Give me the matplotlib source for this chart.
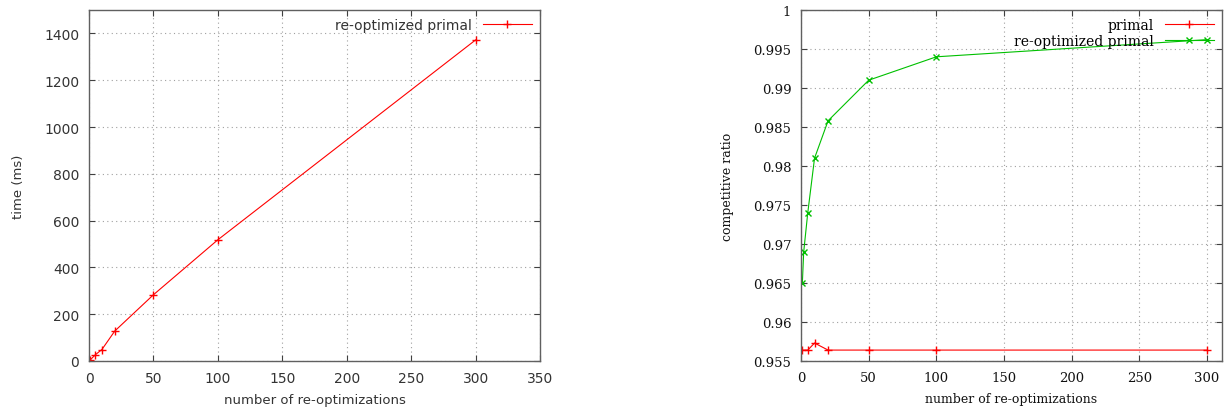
import matplotlib
matplotlib.use("Agg")
import matplotlib.pyplot as plt

# Left chart data
left_x = [1, 5, 10, 20, 50, 100, 300]
left_time = [5, 27, 49, 128, 283, 518, 1372]

# Right chart data
primal_x = [1, 5, 10, 20, 50, 100, 300]
primal_ratio = [0.9564, 0.9564, 0.9573, 0.9564, 0.9564, 0.9564, 0.9564]
reopt_x = [1, 2, 5, 10, 20, 50, 100, 300]
reopt_ratio = [0.9650, 0.9690, 0.9740, 0.9810, 0.9858, 0.9910, 0.9940, 0.9962]

left_xticks = [0, 50, 100, 150, 200, 250, 300, 350]
left_yticks = [0, 200, 400, 600, 800, 1000, 1200, 1400]
right_xticks = [0, 50, 100, 150, 200, 250, 300]
right_xlabels = ["0", "50", "100", "150", "200", "250", "300"]
right_yticks = [0.955, 0.96, 0.965, 0.97, 0.975, 0.98, 0.985, 0.99, 0.995, 1.0]
right_ylabels = ["0.955", "0.96", "0.965", "0.97", "0.975", "0.98", "0.985", "0.99", "0.995", "1"]

W, H = 1224, 410
fig = plt.figure(figsize=(W / 100, H / 100), dpi=100)

def style_axes(ax, family, size, color):
    ax.grid(True, linestyle=(0, (1, 3)), color="#a0a0a0", linewidth=0.8)
    ax.set_axisbelow(True)
    for s in ax.spines.values():
        s.set_color("#606060")
        s.set_linewidth(1.0)
    ax.tick_params(direction="in", top=True, right=True, length=4, width=0.8,
                   color="#404040", labelsize=size, pad=7,
                   labelfontfamily=family, labelcolor=color)

# Left axes
ax1 = fig.add_axes([89 / W, (H - 362) / H, 451 / W, 351 / H])
ax1.plot(left_x, left_time, color="#ff0000", linewidth=0.8, marker="+",
         markersize=6, markeredgewidth=1.0, label="re-optimized primal")
ax1.set_xlim(0, 350)
ax1.set_ylim(0, 1500)
ax1.set_xticks(left_xticks)
ax1.set_yticks(left_yticks)
style_axes(ax1, "DejaVu Sans", 10, "#333333")
ax1.set_xlabel("number of re-optimizations", family="DejaVu Sans", fontsize=9.5,
               color="#333333", labelpad=6)
ax1.set_ylabel("time (ms)", family="DejaVu Sans", fontsize=9.5, color="#333333",
               labelpad=14)
leg1 = ax1.legend(loc="upper right", frameon=False, markerfirst=False,
                  prop={"family": "DejaVu Sans", "size": 10}, handlelength=3.5,
                  borderaxespad=0.2)
for t in leg1.get_texts():
    t.set_color("#333333")

# Right axes
ax2 = fig.add_axes([801 / W, (H - 362) / H, 421 / W, 351 / H])
ax2.plot(primal_x, primal_ratio, color="#ff0000", linewidth=0.8, marker="+",
         markersize=6, markeredgewidth=1.0, label="primal")
ax2.plot(reopt_x, reopt_ratio, color="#00c000", linewidth=0.8, marker="x",
         markersize=5, markeredgewidth=1.0, label="re-optimized primal")
ax2.set_xlim(0, 311)
ax2.set_ylim(0.955, 1.0)
style_axes(ax2, "DejaVu Serif", 9.5, "#111111")
ax2.set_xticks(right_xticks, right_xlabels, fontfamily="DejaVu Serif", fontsize=9.5)
ax2.set_yticks(right_yticks, right_ylabels, fontfamily="DejaVu Serif", fontsize=9.5)
ax2.set_xlabel("number of re-optimizations", family="DejaVu Serif", fontsize=9,
               color="#111111", labelpad=6)
ax2.set_ylabel("competitive ratio", family="DejaVu Serif", fontsize=9,
               color="#111111", labelpad=14)
leg2 = ax2.legend(loc="upper right", frameon=False, markerfirst=False,
                  prop={"family": "DejaVu Serif", "size": 10}, handlelength=3.5,
                  borderaxespad=0.2, labelspacing=0.1)

fig.savefig("out.png", dpi=100)
